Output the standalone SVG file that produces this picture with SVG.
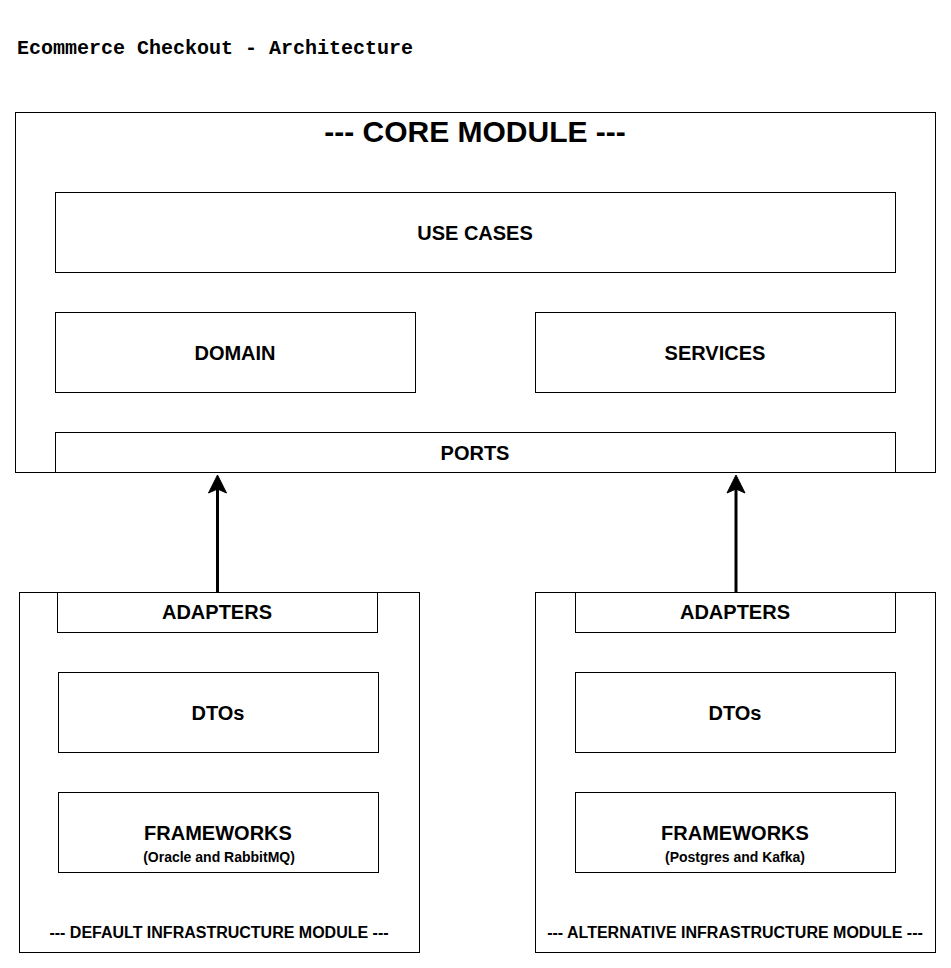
<svg xmlns="http://www.w3.org/2000/svg" width="951" height="968" viewBox="0 0 951 968">
<style>
.box{fill:#ffffff;stroke:#000000;stroke-width:1}
.lbl{font-family:"Liberation Sans",Arial,sans-serif;font-weight:bold;font-size:20px;text-anchor:middle;fill:#000}
.sm{font-family:"Liberation Sans",Arial,sans-serif;font-weight:bold;font-size:14px;text-anchor:middle;fill:#000}
.mod{font-family:"Liberation Sans",Arial,sans-serif;font-weight:bold;font-size:16px;text-anchor:middle;fill:#000}
.conn{stroke:#000;stroke-width:3;fill:none}
.head{fill:#000;stroke:#000;stroke-width:1}
</style>
<rect width="951" height="968" fill="#ffffff"/>
<text x="17" y="54" font-family="'Liberation Mono','Courier New',monospace" font-weight="bold" font-size="20" fill="#000">Ecommerce Checkout - Architecture</text>
<g id="core-module">
<rect class="box" x="15.5" y="112.5" width="920" height="360"/>
<text class="lbl" x="475" y="142" style="font-size:30px">--- CORE MODULE ---</text>
</g>
<g id="use-cases"><rect class="box" x="55.5" y="192.5" width="840" height="80"/><text class="lbl" x="475" y="240">USE CASES</text></g>
<g id="domain"><rect class="box" x="55.5" y="312.5" width="360" height="80"/><text class="lbl" x="235" y="360">DOMAIN</text></g>
<g id="services"><rect class="box" x="535.5" y="312.5" width="360" height="80"/><text class="lbl" x="715" y="360">SERVICES</text></g>
<g id="ports"><rect class="box" x="55.5" y="432.5" width="840" height="40"/><text class="lbl" x="475" y="460">PORTS</text></g>
<g id="default-infra">
<rect class="box" x="19.5" y="592.5" width="400" height="360"/>
<text class="mod" x="219" y="938">--- DEFAULT INFRASTRUCTURE MODULE ---</text>
</g>
<g id="adapters-default"><rect class="box" x="57.5" y="592.5" width="320" height="40"/><text class="lbl" x="217" y="619">ADAPTERS</text></g>
<g id="dtos-default"><rect class="box" x="58.5" y="672.5" width="320" height="80"/><text class="lbl" x="218" y="720">DTOs</text></g>
<g id="frameworks-default"><rect class="box" x="58.5" y="792.5" width="320" height="80"/><text class="lbl" x="218" y="840">FRAMEWORKS</text><text class="sm" x="219" y="862">(Oracle and RabbitMQ)</text></g>
<g id="alternative-infra">
<rect class="box" x="535.5" y="592.5" width="400" height="360"/>
<text class="mod" x="735" y="938">--- ALTERNATIVE INFRASTRUCTURE MODULE ---</text>
</g>
<g id="adapters-alt"><rect class="box" x="575.5" y="592.5" width="320" height="40"/><text class="lbl" x="735" y="619">ADAPTERS</text></g>
<g id="dtos-alt"><rect class="box" x="575.5" y="672.5" width="320" height="80"/><text class="lbl" x="735" y="720">DTOs</text></g>
<g id="frameworks-alt"><rect class="box" x="575.5" y="792.5" width="320" height="80"/><text class="lbl" x="735" y="840">FRAMEWORKS</text><text class="sm" x="735" y="862">(Postgres and Kafka)</text></g>
<g id="connectors">
<line class="conn" x1="217.5" y1="592" x2="217.5" y2="488"/>
<path class="head" d="M217.5,475 L226.5,493 L217.5,489 L208.5,493 Z"/>
<line class="conn" x1="736" y1="592" x2="736" y2="488"/>
<path class="head" d="M736,475 L745,493 L736,489 L727,493 Z"/>
</g>
</svg>
